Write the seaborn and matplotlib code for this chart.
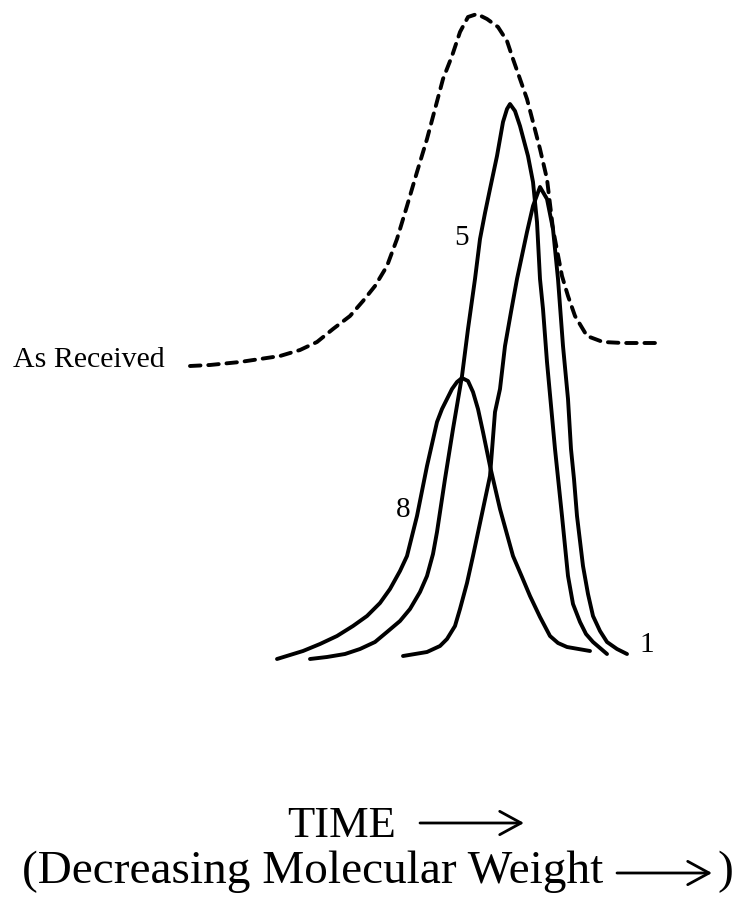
import matplotlib
matplotlib.use("Agg")
import matplotlib.pyplot as plt
import seaborn as sns
import pandas as pd

# Elution time (arbitrary units) and detector response for each trace
as_received_time = [-1.0, 1.0, 4.0, 6.0, 8.0, 10.0, 11.7, 13.3, 15.0, 16.3, 17.5, 18.7,
                    19.7, 20.7, 21.7, 22.7, 23.5, 24.3, 25.2, 26.0, 26.8, 27.7, 28.7,
                    29.8, 30.7, 31.3, 32.0, 32.7, 33.3, 34.0, 34.7, 35.3, 36.2, 36.8,
                    37.5, 38.7, 40.3, 42.3, 45.8]
as_received_resp = [29.3, 29.4, 29.7, 30.0, 30.3, 30.9, 31.7, 33.0, 34.3, 35.8, 37.3, 39.3,
                    42.0, 45.3, 48.7, 52.0, 55.0, 58.0, 60.3, 62.7, 64.2, 64.5, 64.0,
                    63.2, 61.8, 60.0, 58.0, 56.0, 53.7, 51.0, 48.0, 43.0, 38.3, 36.3,
                    34.3, 32.3, 31.7, 31.6, 31.6]

frac5_time = [11.0, 12.7, 14.5, 16.0, 17.5, 18.7, 20.0, 21.0, 22.0, 22.7, 23.3, 23.7,
              24.5, 25.3, 26.2, 26.8, 27.5, 28.0, 28.5, 29.0, 29.7, 30.3, 30.7, 31.0,
              31.5, 32.0, 32.8, 33.3, 33.7, 34.0, 34.3, 34.7, 35.5, 36.2, 36.8,
              37.3, 38.0, 38.6, 39.3, 40.7]
frac5_resp = [0.0, 0.2, 0.5, 1.0, 1.7, 2.7, 3.8, 5.0, 6.7, 8.3, 10.5, 12.7,
              18.0, 23.0, 28.3, 33.0, 38.0, 42.0, 44.6, 47.0, 50.3, 53.7, 55.0, 55.5,
              54.8, 53.3, 50.3, 47.7, 43.7, 38.0, 35.0, 29.7, 21.0, 14.3, 8.3,
              5.5, 3.7, 2.5, 1.7, 0.5]

frac1_time = [20.3, 22.7, 24.0, 24.7, 25.5, 26.0, 26.7, 27.3, 28.3, 29.0, 29.5, 30.0,
              30.5, 31.1, 31.7, 32.7, 33.3, 34.0, 34.7, 35.3, 35.8, 36.3, 36.8, 37.1,
              37.4, 37.7, 38.3, 38.8, 39.3, 40.0, 40.7, 41.7, 42.7]
frac1_resp = [0.3, 0.7, 1.3, 2.0, 3.3, 5.0, 7.6, 10.3, 15.0, 18.3, 24.7, 27.0,
              31.3, 34.7, 38.0, 42.7, 45.3, 47.2, 46.0, 43.0, 38.0, 31.3, 26.0, 21.0,
              18.0, 14.3, 9.3, 6.5, 4.3, 2.8, 1.7, 1.0, 0.5]

frac8_time = [7.7, 10.3, 12.0, 13.7, 15.3, 16.7, 18.0, 19.0, 20.0, 20.7, 21.7, 22.7,
              23.7, 24.2, 24.7, 25.2, 25.7, 26.2, 26.8, 27.3, 27.8, 28.3, 29.0, 30.0,
              31.3, 32.2, 33.0, 34.0, 35.0, 35.8, 36.7, 39.0]
frac8_resp = [0.0, 0.8, 1.5, 2.3, 3.3, 4.3, 5.6, 7.0, 8.8, 10.3, 14.3, 19.3,
              23.7, 25.0, 26.0, 27.0, 27.7, 28.1, 27.8, 26.7, 25.0, 22.7, 19.3, 15.0,
              10.3, 8.2, 6.3, 4.2, 2.3, 1.6, 1.2, 0.8]

# Curve labels and where they sit (time, response)
labels = ["5", "8", "1"]
label_time = [26.2, 20.3, 44.7]
label_resp = [42.2, 15.0, 1.5]

sns.set_theme(style="white")
plt.rcParams["font.family"] = ["Liberation Serif", "DejaVu Sans"]
plt.rcParams["text.color"] = "black"

fig = plt.figure(figsize=(7.39, 9.03), dpi=100)
ax = fig.add_axes([0, 0, 1, 1])

lw = 2.8
line_kw = dict(color="black", linewidth=lw, sort=False, estimator=None,
               solid_capstyle="round", solid_joinstyle="round")

for t, r in [(frac8_time, frac8_resp), (frac5_time, frac5_resp), (frac1_time, frac1_resp)]:
    sns.lineplot(data=pd.DataFrame({"time": t, "response": r}),
                 x="time", y="response", ax=ax, **line_kw)

sns.lineplot(data=pd.DataFrame({"time": as_received_time, "response": as_received_resp}),
             x="time", y="response", ax=ax, color="black", linewidth=lw,
             sort=False, estimator=None)
dashed = ax.lines[-1]
dashed.set_dashes((2.7, 2.0))
dashed.set_dash_capstyle("round")

ax.text(-18.7, 30.0, "As Received", ha="left", va="center", fontsize=21.5, color="black")
for lab, t, r in zip(labels, label_time, label_resp):
    ax.text(t, r, lab, ha="center", va="center", fontsize=21, color="black")

# Axis caption with its direction arrows
arrow_props = dict(arrowstyle="->,head_length=0.55,head_width=0.3", lw=2.0,
                   color="black", mutation_scale=28, shrinkA=0, shrinkB=0)
ax.text(14.2, -16.6, "TIME", ha="center", va="center", fontsize=32, color="black")
ax.annotate("", xy=(32.4, -16.4), xytext=(22.0, -16.4), arrowprops=arrow_props)
ax.text(-17.8, -21.2, "(Decreasing Molecular Weight", ha="left", va="center",
        fontsize=34, color="black")
ax.annotate("", xy=(51.2, -21.4), xytext=(41.7, -21.4), arrowprops=arrow_props)
ax.text(52.5, -21.2, ")", ha="center", va="center", fontsize=34, color="black")

ax.set_xlim(-20, 53.9)
ax.set_ylim(-24.3, 66.0)
ax.set_axis_off()

fig.savefig("out.png", dpi=100, facecolor="white")
